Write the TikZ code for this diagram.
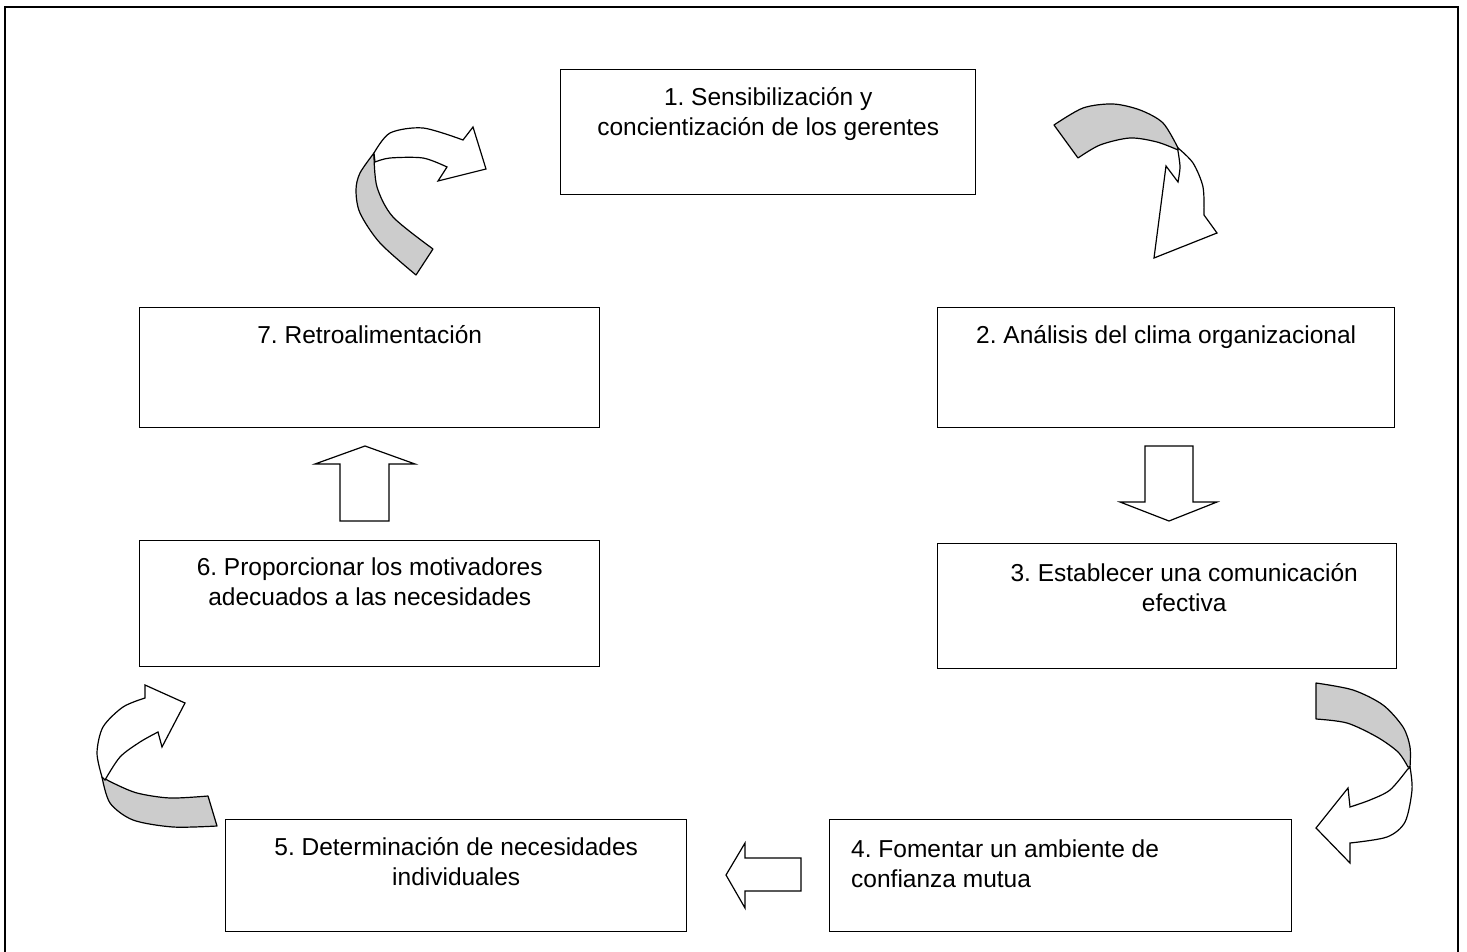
\documentclass[tikz,border=0pt]{standalone}
\usepackage{fontspec}
\setmainfont{Liberation Sans}
\frenchspacing
\begin{document}
\begin{tikzpicture}[x=1pt,y=-1pt,
  stepbox/.style={draw,line width=1.4pt,inner sep=0pt,anchor=north west},
  lbl/.style={anchor=north,inner sep=0pt,align=center,
    font=\fontsize{24.5}{30}\selectfont},
  blockarrow/.style={draw,line width=1.2pt,fill=white,line join=miter},
  ribbonback/.style={draw,line width=1.2pt,fill=black!20,line join=round},
  ribbonfront/.style={draw,line width=1.2pt,fill=white,line join=miter}]
\useasboundingbox (0,0) rectangle (1467,952);
% outer frame (open at the bottom edge of the page)
\draw[line width=1.8pt] (5,952) -- (5,7) -- (1458,7) -- (1458,952);

% process steps
\node[stepbox,minimum width=415pt,minimum height=125pt] (b1) at (560,69) {};
\node[stepbox,minimum width=457pt,minimum height=120pt] (b2) at (937,307) {};
\node[stepbox,minimum width=459pt,minimum height=125pt] (b3) at (937,543) {};
\node[stepbox,minimum width=462pt,minimum height=112pt] (b4) at (829,819) {};
\node[stepbox,minimum width=461pt,minimum height=112pt] (b5) at (225,819) {};
\node[stepbox,minimum width=460pt,minimum height=126pt] (b6) at (139,540) {};
\node[stepbox,minimum width=460pt,minimum height=120pt] (b7) at (139,307) {};

\node[lbl] (t1) at ([yshift=-12pt]b1.north) {\rule{0pt}{24pt}1. Sensibilización y\\concientización de los gerentes};
\node[lbl] (t2) at ([yshift=-12pt]b2.north) {\rule{0pt}{24pt}2. Análisis del clima organizacional};
\node[lbl] (t3) at ([xshift=17pt,yshift=-14pt]b3.north) {\rule{0pt}{24pt}3. Establecer una comunicación\\efectiva};
\node[lbl,anchor=north west,align=left] (t4) at ([xshift=22pt,yshift=-14pt]b4.north west) {\rule{0pt}{24pt}4. Fomentar un ambiente de\\confianza mutua};
\node[lbl] (t5) at ([yshift=-12pt]b5.north) {\rule{0pt}{24pt}5. Determinación de necesidades\\individuales};
\node[lbl] (t6) at ([yshift=-11pt]b6.north) {\rule{0pt}{24pt}6. Proporcionar los motivadores\\adecuados a las necesidades};
\node[lbl] (t7) at ([yshift=-12pt]b7.north) {\rule{0pt}{24pt}7. Retroalimentación};

% straight block arrows
\draw[blockarrow] (1145,446) -- (1193,446) -- (1193,502) -- (1217,502) -- (1169,521)
  -- (1120,502) -- (1145,502) -- cycle;
\draw[blockarrow] (801,858) -- (801,891) -- (745,891) -- (745,908) -- (726,875)
  -- (745,843) -- (745,858) -- cycle;
\draw[blockarrow] (340,521) -- (389,521) -- (389,464) -- (415,464) -- (365,446)
  -- (315,464) -- (340,464) -- cycle;

% curved ribbon arrow from step 7 to step 1
\draw[ribbonback] plot[smooth] coordinates {(374,153) (360,173) (356,190) (360,213) (380,243) (416,275)}
  -- (433,249) -- plot[smooth] coordinates {(433,249) (393,217) (377,187) (374,156)} -- cycle;
\draw[ribbonfront] plot[smooth] coordinates {(374,153) (390,133) (423,128) (463,140)}
  -- (473,127) -- (486,169) -- (438,181) -- (447,167)
  -- plot[smooth] coordinates {(447,167) (423,158) (390,158) (375,162)} -- cycle;

% curved ribbon arrow from step 1 to step 2
\draw[ribbonback] plot[smooth] coordinates {(1054,125) (1083,108) (1113,104) (1140,110) (1163,123) (1178,148)}
  -- plot[smooth] coordinates {(1178,150) (1157,142) (1130,138) (1100,145) (1078,158)} -- cycle;
\draw[ribbonfront] plot[smooth] coordinates {(1178,148) (1193,163) (1203,187) (1204,215)}
  -- (1217,233) -- (1154,258) -- (1166,166) -- (1178,182)
  -- plot[smooth] coordinates {(1178,182) (1180,167) (1178,151)} -- cycle;

% curved ribbon arrow from step 3 to step 4
\draw[ribbonback] plot[smooth] coordinates {(1316,683) (1353,690) (1383,705) (1403,727) (1410,747) (1410,767)}
  -- plot[smooth] coordinates {(1408,767) (1398,752) (1377,737) (1347,723) (1316,719)} -- cycle;
\draw[ribbonfront] plot[smooth] coordinates {(1410,767) (1412,790) (1405,822) (1387,837) (1350,843)}
  -- (1350,863) -- (1316,828) -- (1348,788) -- (1350,807)
  -- plot[smooth] coordinates {(1350,807) (1370,800) (1390,790) (1407,770)} -- cycle;

% curved ribbon arrow from step 5 to step 6
\draw[ribbonback] plot[smooth] coordinates {(208,796) (170,798) (137,793) (113,783) (102,777)}
  -- plot[smooth] coordinates {(102,777) (110,803) (133,820) (173,827) (217,826)} -- cycle;
\draw[ribbonfront] plot[smooth] coordinates {(102,777) (97,753) (103,727) (123,707) (145,698)}
  -- (145,685) -- (185,703) -- (162,747) -- (158,732)
  -- plot[smooth] coordinates {(158,732) (140,742) (120,757) (105,780)} -- cycle;
\end{tikzpicture}
\end{document}
